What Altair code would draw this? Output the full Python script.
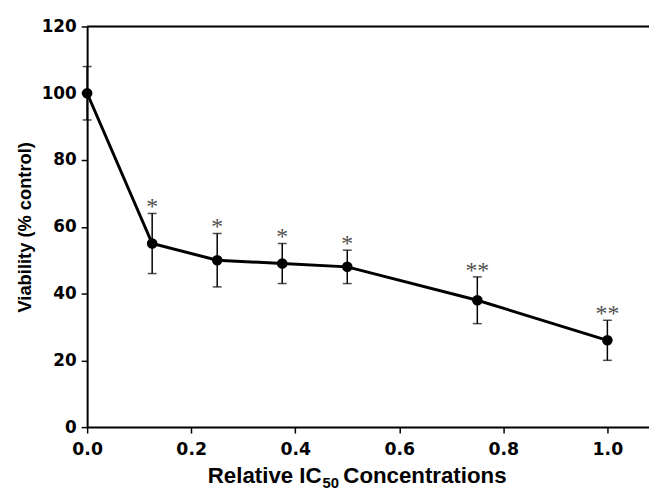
import altair as alt
import pandas as pd

conc = [0.0, 0.125, 0.25, 0.375, 0.5, 0.75, 1.0]
viability = [100, 55, 50, 49, 48, 38, 26]
upper = [108, 64, 58, 55, 53, 45, 32]
lower = [92, 46, 42, 43, 43, 31, 20]
stars = ["", "*", "*", "*", "*", "**", "**"]

df = pd.DataFrame({"conc": conc, "v": viability, "hi": upper, "lo": lower, "star": stars})

LFONT = "DejaVu Sans"
TFONT = "Liberation Sans"
xs = alt.Scale(domain=[0, 1.08], nice=False, zero=False)
ys = alt.Scale(domain=[0, 120], nice=False)

xax = alt.Axis(values=[0, 0.2, 0.4, 0.6, 0.8, 1.0], format=".1f", grid=False, title=None,
               labelFont=LFONT, labelFontSize=17.5, labelFontWeight="bold", labelColor="black",
               labelPadding=8, tickSize=6, tickColor="black", tickWidth=1.5,
               domainColor="black", domainWidth=2, labelFlush=False)
yax = alt.Axis(values=[0, 20, 40, 60, 80, 100, 120], grid=False,
               title="Viability (% control)", titleFont=TFONT, titleFontSize=18.5,
               titleFontWeight="bold", titleColor="black", titlePadding=7,
               labelFont=LFONT, labelFontSize=17, labelFontWeight="bold", labelColor="black",
               labelPadding=5, tickSize=6, tickColor="black", tickWidth=1.5,
               domainColor="black", domainWidth=2)

base = alt.Chart(df)

line = base.mark_line(color="black", strokeWidth=3).encode(
    x=alt.X("conc:Q", scale=xs, axis=xax), y=alt.Y("v:Q", scale=ys, axis=yax))
pts = base.mark_point(filled=True, color="black", size=115, opacity=1).encode(
    x=alt.X("conc:Q", scale=xs), y=alt.Y("v:Q", scale=ys))
err = base.mark_rule(color="black", strokeWidth=1.5).encode(
    x=alt.X("conc:Q", scale=xs), y=alt.Y("lo:Q", scale=ys), y2="hi:Q")
capt = base.mark_tick(color="black", orient="horizontal", size=9, thickness=1.5).encode(
    x=alt.X("conc:Q", scale=xs), y=alt.Y("hi:Q", scale=ys))
capb = base.mark_tick(color="black", orient="horizontal", size=9, thickness=1.5).encode(
    x=alt.X("conc:Q", scale=xs), y=alt.Y("lo:Q", scale=ys))
txt = base.mark_text(font="Liberation Serif", fontSize=24, color="#505050",
                     baseline="alphabetic", dy=1).encode(
    x=alt.X("conc:Q", scale=xs), y=alt.Y("hi:Q", scale=ys), text="star:N")

topdf = pd.DataFrame({"a": [0.0], "b": [1.08], "t": [120]})
top = alt.Chart(topdf).mark_rule(color="black", strokeWidth=2).encode(
    x=alt.X("a:Q", scale=xs), x2="b:Q", y=alt.Y("t:Q", scale=ys))

# x-axis title with a real subscript, built from three text pieces
title_main = ["Relative IC"]
title_sub = ["50"]
title_rest = ["Concentrations"]
t1 = alt.Chart(pd.DataFrame({"s": title_main})).mark_text(
    font=TFONT, fontSize=22.5, fontWeight="bold", color="black", align="right",
    baseline="alphabetic").encode(text="s:N", x=alt.value(237), y=alt.value(462))
t2 = alt.Chart(pd.DataFrame({"s": title_sub})).mark_text(
    font=TFONT, fontSize=15, fontWeight="bold", color="black", align="left",
    baseline="alphabetic").encode(text="s:N", x=alt.value(238), y=alt.value(467))
t3 = alt.Chart(pd.DataFrame({"s": title_rest})).mark_text(
    font=TFONT, fontSize=22.5, fontWeight="bold", color="black", align="left",
    baseline="alphabetic").encode(text="s:N", x=alt.value(259), y=alt.value(462))

chart = alt.layer(err, capt, capb, line, pts, txt, top, t1, t2, t3).properties(
    width=568, height=405,
    autosize=alt.AutoSizeParams(type="none"),
    padding={"left": 80, "top": 16, "right": 0, "bottom": 72},
).configure_view(stroke=None).configure(background="white")

chart.save("out.html", embed_options={"renderer": "svg", "actions": False})
